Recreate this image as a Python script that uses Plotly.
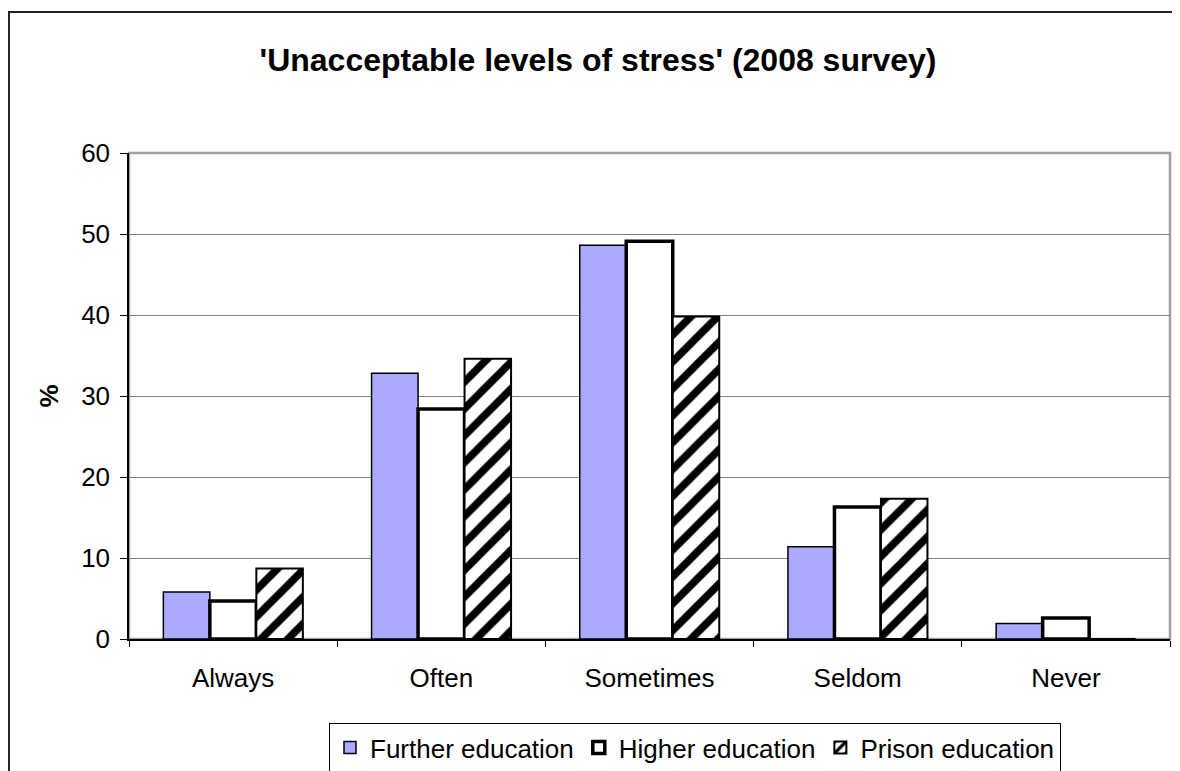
import plotly.graph_objects as go

categories = ["Always", "Often", "Sometimes", "Seldom", "Never"]
further_education = [5.8, 32.8, 48.6, 11.4, 1.9]
higher_education = [4.7, 28.4, 49.1, 16.3, 2.6]
prison_education = [8.7, 34.6, 39.8, 17.3, 0]
y_ticks = [0, 10, 20, 30, 40, 50, 60]

FONT = "Liberation Sans, Arial, sans-serif"

# page has an 8px body margin; figure coordinates are page - 8
W, H = 1172, 763
L, T, R, B = 121, 145, 10, 132
PW, PH = W - L - R, H - T - B

fig = go.Figure()
fig.add_trace(go.Bar(
    name="Further education", x=categories, y=further_education,
    marker=dict(color="#aaaaff", line=dict(color="black", width=1.5)),
))
fig.add_trace(go.Bar(
    name="Higher education", x=categories, y=higher_education,
    marker=dict(color="white", line=dict(color="black", width=3.5)),
))
fig.add_trace(go.Bar(
    name="Prison education", x=categories, y=prison_education,
    marker=dict(color="white", line=dict(color="black", width=2),
                pattern=dict(shape="/", fgcolor="black", bgcolor="white",
                             fgopacity=1, size=19, solidity=0.4, fillmode="replace")),
))

fig.update_layout(
    width=W, height=H,
    margin=dict(l=L, r=R, t=T, b=B, autoexpand=False),
    paper_bgcolor="white", plot_bgcolor="white",
    font=dict(family=FONT, size=26, color="black"),
    barmode="group", bargap=0.33, bargroupgap=0,
    title=dict(text="<b>'Unacceptable levels of stress' (2008 survey)</b>",
               x=590 / W, xanchor="center", xref="container",
               y=1 - 52 / H, yanchor="middle", yref="container",
               font=dict(size=32, family=FONT)),
    showlegend=True,
    legend=dict(orientation="h", x=687 / W, xanchor="center", xref="container",
                y=1 - 715 / H, yanchor="top", yref="container",
                bordercolor="black", borderwidth=1, bgcolor="white",
                font=dict(size=26, family=FONT), itemwidth=30,
                traceorder="normal"),
    xaxis=dict(showline=True, linecolor="black", linewidth=1.5,
               ticks="outside", tickson="boundaries", ticklen=6, tickcolor="black",
               ticklabelstandoff=15, showgrid=False, zeroline=False,
               tickfont=dict(size=26)),
    yaxis=dict(range=[0, 60], tickvals=y_ticks, showline=True, linecolor="black",
               linewidth=1.5, ticks="outside", ticklen=7, tickcolor="black",
               ticklabelstandoff=5, showgrid=True, gridcolor="#808080", gridwidth=1.2,
               zeroline=False, tickfont=dict(size=26),
               title=dict(text="<b>%</b>", font=dict(size=26), standoff=15)),
    shapes=[
        dict(type="rect", xref="paper", yref="paper", x0=0, x1=1, y0=0, y1=1,
             line=dict(color="#a0a0a0", width=2.5), layer="below"),
        dict(type="rect", xref="paper", yref="paper",
             x0=(1 - L) / PW, x1=1.3, y0=-0.6, y1=(H - B - 4) / PH,
             line=dict(color="#222222", width=2)),
    ],
)

fig.write_html("out.html")
